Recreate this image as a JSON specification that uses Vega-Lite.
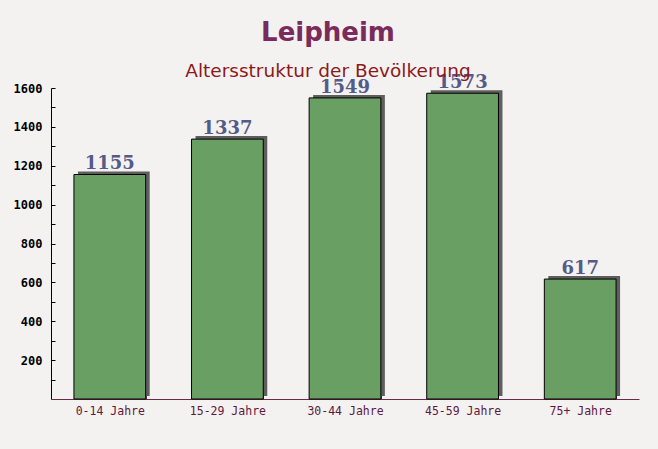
{
  "$schema": "https://vega.github.io/schema/vega-lite/v6.json",
  "autosize": "none",
  "width": 588,
  "height": 311,
  "padding": {"left": 51, "top": 88, "right": 19, "bottom": 50},
  "background": "#f4f1f1",
  "config": {"view": {"stroke": null}},
  "title": {
    "text": "Leipheim",
    "subtitle": "Altersstruktur der Bevölkerung",
    "anchor": "middle",
    "dx": -17,
    "offset": -6,
    "font": "DejaVu Sans",
    "fontSize": 26,
    "fontWeight": "bold",
    "color": "#7a2b5b",
    "subtitleFont": "DejaVu Sans",
    "subtitleFontSize": 18.5,
    "subtitleColor": "#8b1a1a",
    "subtitlePadding": 16
  },
  "data": {
    "values": [
      {"group": "0-14 Jahre", "value": 1155},
      {"group": "15-29 Jahre", "value": 1337},
      {"group": "30-44 Jahre", "value": 1549},
      {"group": "45-59 Jahre", "value": 1573},
      {"group": "75+ Jahre", "value": 617}
    ]
  },
  "encoding": {
    "x": {
      "field": "group",
      "type": "nominal",
      "sort": null,
      "scale": {"paddingInner": 0.39, "paddingOuter": 0.195},
      "axis": {
        "title": null,
        "labelAngle": 0,
        "domainColor": "#6b2a4a",
        "tickColor": "#6b2a4a",
        "tickBand": "extent",
        "tickSize": -5,
        "labelPadding": 11,
        "labelFont": "DejaVu Sans Mono",
        "labelFontSize": 11.5,
        "labelColor": "#5e1a3e"
      }
    },
    "y": {
      "field": "value",
      "type": "quantitative",
      "scale": {"domain": [0, 1600], "nice": false},
      "axis": {
        "title": null,
        "grid": false,
        "values": [100, 200, 300, 400, 500, 600, 700, 800, 900, 1000, 1100, 1200, 1300, 1400, 1500, 1600],
        "labelExpr": "datum.value % 200 == 0 ? datum.label : ''",
        "format": "d",
        "domainColor": "#000000",
        "tickColor": "#000000",
        "tickSize": -4,
        "labelPadding": 13,
        "labelFont": "DejaVu Sans Mono",
        "labelFontSize": 12,
        "labelFontWeight": "bold",
        "labelColor": "#000000"
      }
    }
  },
  "layer": [
    {
      "mark": {"type": "bar", "xOffset": 4, "yOffset": -3, "color": "#5e5e5e"}
    },
    {
      "mark": {"type": "bar", "color": "#6a9f64", "stroke": "#000000", "strokeWidth": 1}
    },
    {
      "mark": {"type": "text", "baseline": "alphabetic", "dy": -5, "font": "DejaVu Serif", "fontSize": 18, "fontWeight": "bold", "color": "#555b88"},
      "encoding": {"text": {"field": "value", "type": "quantitative"}}
    }
  ]
}
